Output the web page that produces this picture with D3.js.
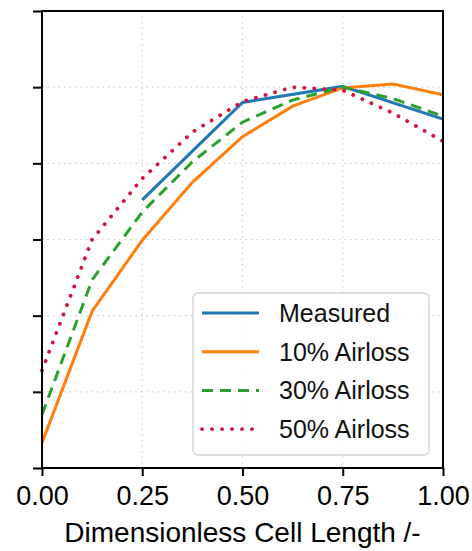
<!DOCTYPE html>
<html>
<head>
<meta charset="utf-8">
<script src="https://cdn.jsdelivr.net/npm/d3@7"></script>
<style>
  body { margin: 0; background: #fff; }
  svg { display: block; font-family: "Liberation Sans", Arial, sans-serif; }
</style>
</head>
<body>
<script>
"use strict";

// cell positions
const cellX = [0, 0.125, 0.25, 0.375, 0.5, 0.625, 0.75, 0.875, 1.0];
const measuredX = [0.25, 0.5, 0.75, 1.0];

// y values (axis unlabelled, arbitrary units 0..6)
const measured = [3.52, 4.80, 5.01, 4.58];
const airloss10 = [0.33, 2.06, 2.99, 3.75, 4.35, 4.75, 4.99, 5.04, 4.90];
const airloss30 = [0.70, 2.47, 3.36, 4.02, 4.54, 4.83, 5.00, 4.85, 4.62];
const airloss50 = [1.28, 3.00, 3.80, 4.41, 4.81, 5.00, 4.96, 4.66, 4.29];

const xTicks = [0, 0.25, 0.5, 0.75, 1.0];
const yTicks = [0, 1, 2, 3, 4, 5, 6];
const seriesNames = ["Measured", "10% Airloss", "30% Airloss", "50% Airloss"];

(function(){
    const measurements = {
        width: 472,
        height: 551,
        left: 42,
        right: 443,
        top: 11,
        bottom: 468
    };

    const series = [
        { name: seriesNames[0], xs: measuredX, ys: measured, color: "#1f77b4", dash: null, cap: "butt" },
        { name: seriesNames[1], xs: cellX, ys: airloss10, color: "#ff7f0e", dash: null, cap: "butt" },
        { name: seriesNames[2], xs: cellX, ys: airloss30, color: "#2ca02c", dash: "11,7", cap: "butt" },
        { name: seriesNames[3], xs: cellX, ys: airloss50, color: "#d2143a", dash: "0.1,9.9", cap: "round" }
    ];

    const svg = d3.select("body").append("svg")
        .attr("width", measurements.width)
        .attr("height", measurements.height);

    const scaleX = d3.scaleLinear()
        .domain([0, 1])
        .range([measurements.left, measurements.right]);

    const scaleY = d3.scaleLinear()
        .domain([0, 6])
        .range([measurements.bottom, measurements.top]);

    // grid
    const grid = svg.append("g")
        .attr("stroke", "#d0d0d0")
        .attr("stroke-width", 1.2)
        .attr("stroke-dasharray", "1.5,4");
    grid.selectAll(".vgrid")
        .data(xTicks.slice(1, -1))
        .enter().append("line")
        .attr("x1", d => scaleX(d)).attr("x2", d => scaleX(d))
        .attr("y1", measurements.top).attr("y2", measurements.bottom);
    grid.selectAll(".hgrid")
        .data(yTicks.slice(1, -1))
        .enter().append("line")
        .attr("x1", measurements.left).attr("x2", measurements.right)
        .attr("y1", d => scaleY(d)).attr("y2", d => scaleY(d));

    // lines
    const line = d3.line()
        .x(d => scaleX(d[0]))
        .y(d => scaleY(d[1]));

    series.forEach(s => {
        svg.append("path")
            .datum(s.xs.map((x, i) => [x, s.ys[i]]))
            .attr("d", line)
            .attr("fill", "none")
            .attr("stroke", s.color)
            .attr("stroke-width", s.cap === "round" ? 3.8 : 3)
            .attr("stroke-linecap", s.cap)
            .attr("stroke-dasharray", s.dash);
    });

    // frame
    svg.append("rect")
        .attr("x", measurements.left)
        .attr("y", measurements.top)
        .attr("width", measurements.right - measurements.left)
        .attr("height", measurements.bottom - measurements.top)
        .attr("fill", "none")
        .attr("stroke", "#000")
        .attr("stroke-width", 2);

    // axes
    const xAxis = d3.axisBottom(scaleX)
        .tickValues(xTicks)
        .tickFormat(d3.format(".2f"))
        .tickSize(8)
        .tickPadding(10);
    const gx = svg.append("g")
        .attr("transform", `translate(0,${measurements.bottom})`)
        .call(xAxis);
    gx.select(".domain").remove();
    gx.selectAll(".tick line").attr("stroke", "#000").attr("stroke-width", 2);
    gx.selectAll(".tick text")
        .attr("font-size", 27)
        .attr("font-family", "Liberation Sans, Arial, sans-serif")
        .attr("fill", "#000");

    const yAxis = d3.axisLeft(scaleY)
        .tickValues(yTicks)
        .tickFormat("")
        .tickSize(9);
    const gy = svg.append("g")
        .attr("transform", `translate(${measurements.left},0)`)
        .call(yAxis);
    gy.select(".domain").remove();
    gy.selectAll(".tick line").attr("stroke", "#000").attr("stroke-width", 2);

    svg.append("text")
        .attr("x", (measurements.left + measurements.right) / 2)
        .attr("y", 542)
        .attr("text-anchor", "middle")
        .attr("font-size", 28)
        .attr("fill", "#000")
        .text("Dimensionless Cell Length /-");

    // legend
    const legend = svg.append("g").attr("transform", "translate(193,293)");
    legend.append("rect")
        .attr("width", 236).attr("height", 162)
        .attr("rx", 5)
        .attr("fill", "#fff")
        .attr("fill-opacity", 0.85)
        .attr("stroke", "#d6d6d6")
        .attr("stroke-width", 1.5);
    series.forEach((s, i) => {
        const y = 20 + i * 38.7;
        legend.append("line")
            .attr("x1", 9).attr("x2", 66)
            .attr("y1", y).attr("y2", y)
            .attr("stroke", s.color)
            .attr("stroke-width", s.cap === "round" ? 3.8 : 3)
            .attr("stroke-linecap", s.cap)
            .attr("stroke-dasharray", s.dash);
        legend.append("text")
            .attr("x", 86).attr("y", y + 9)
            .attr("font-size", 25)
            .attr("fill", "#111")
            .text(s.name);
    });
})();
</script>
</body>
</html>
